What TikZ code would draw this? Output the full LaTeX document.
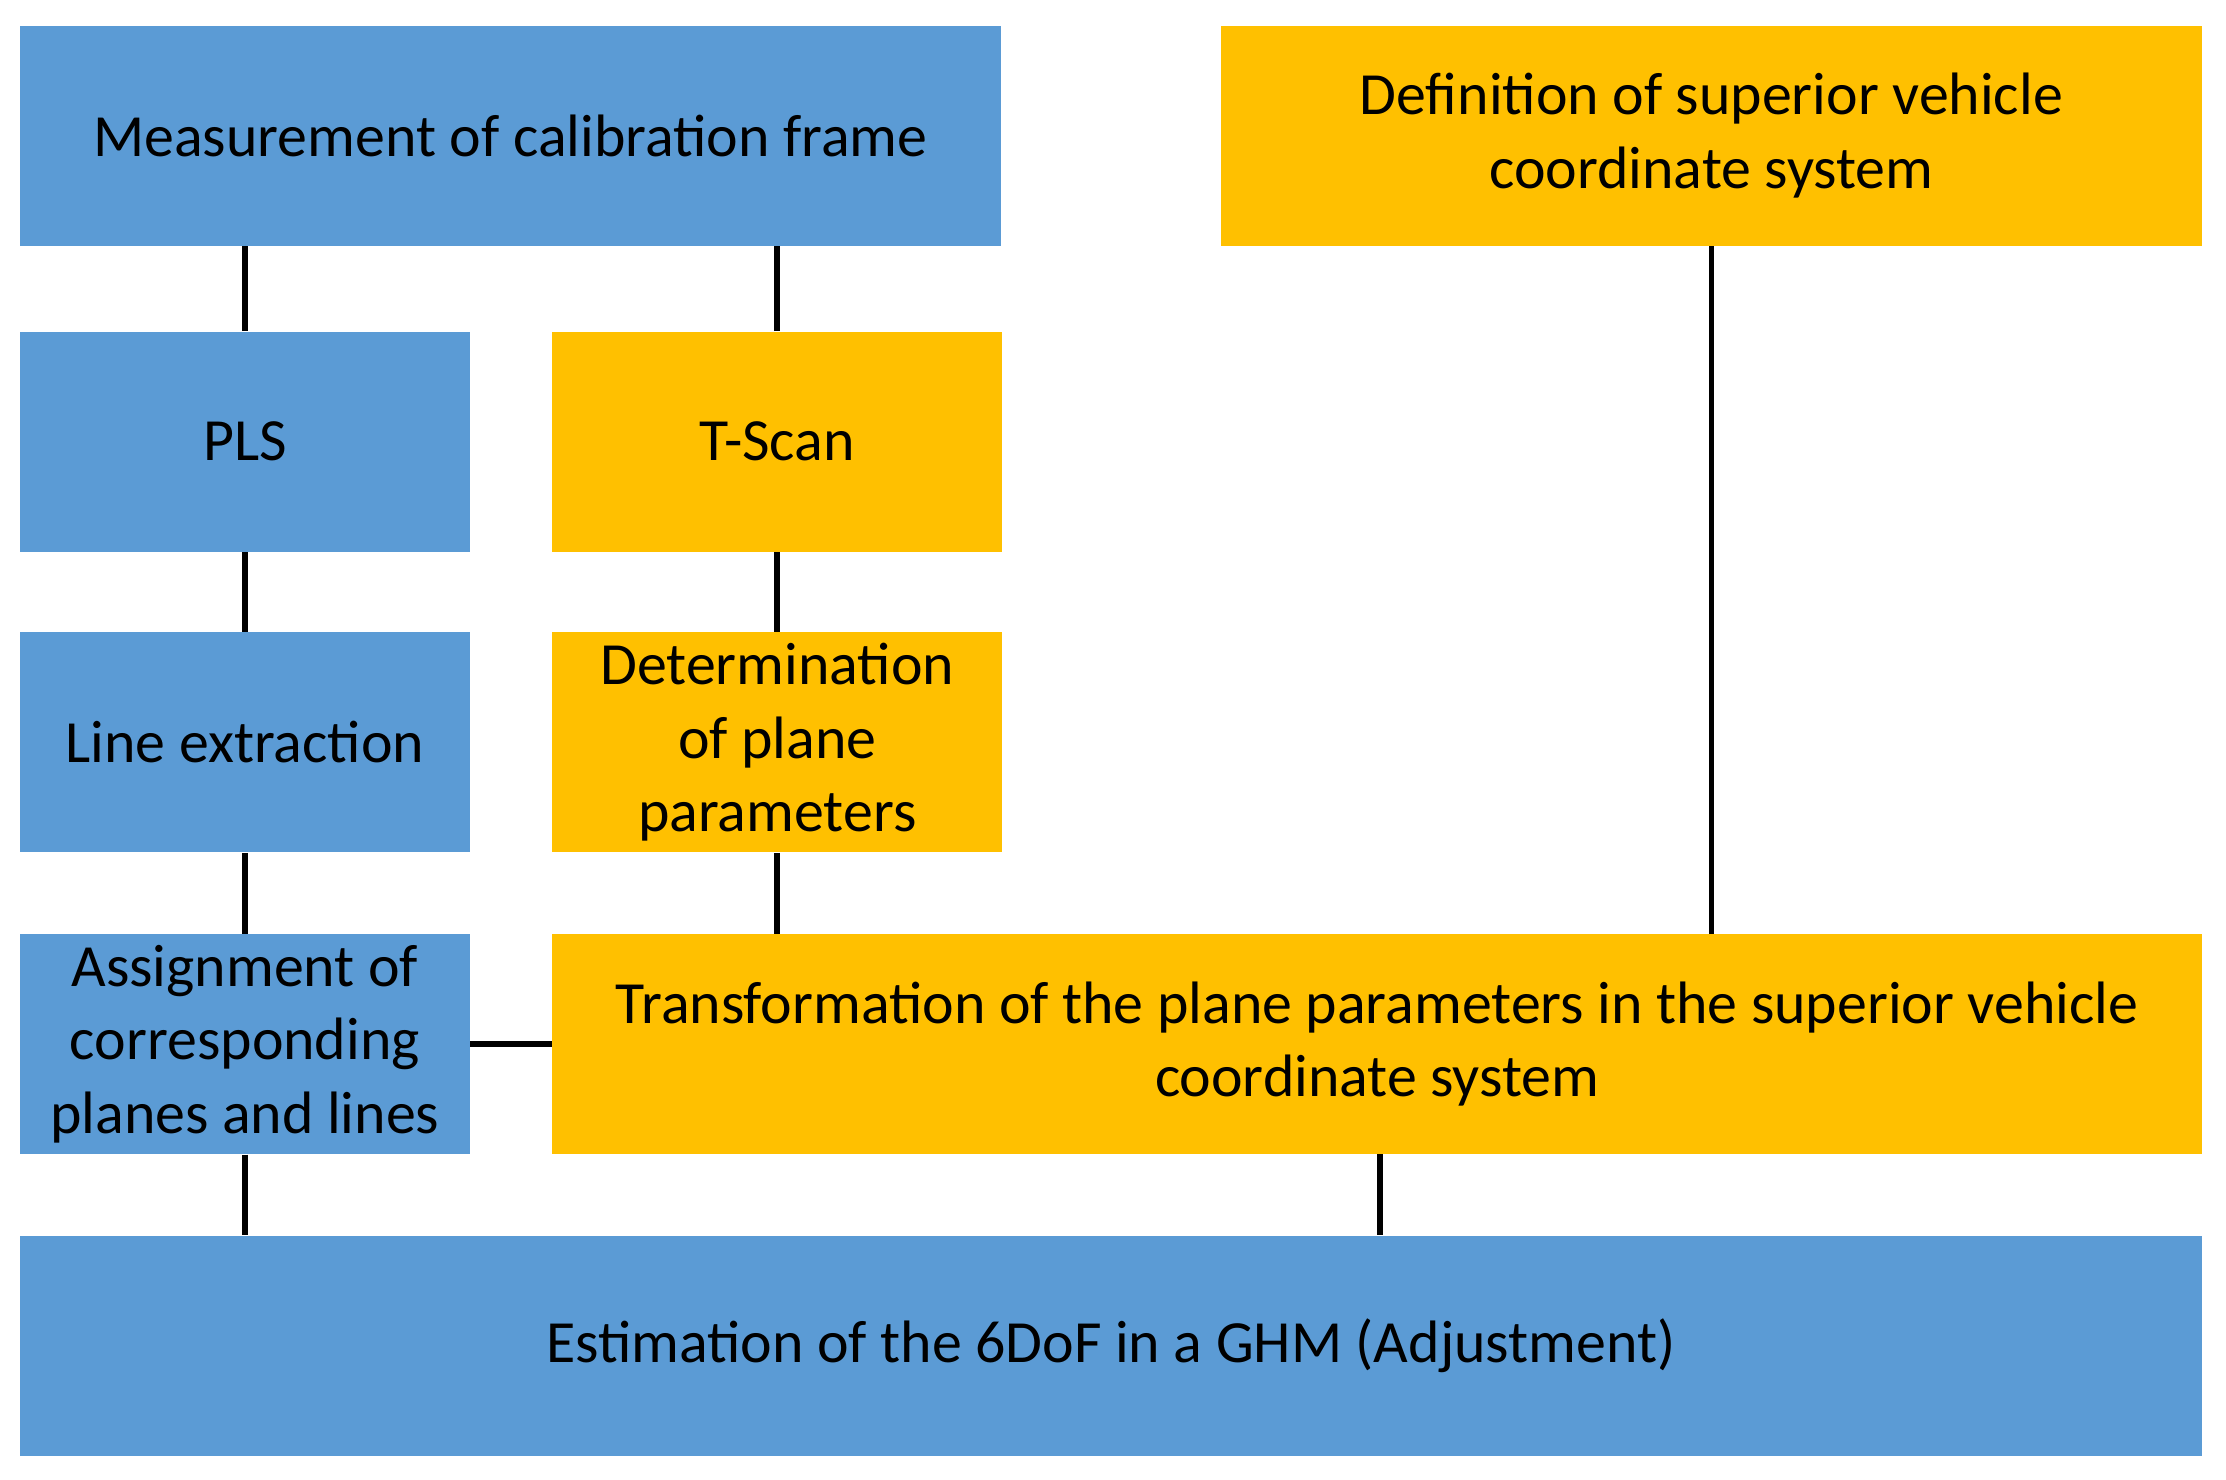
\documentclass[tikz,border=0pt]{standalone}
\usepackage{fontspec}
\setmainfont{Carlito}
\definecolor{bl}{HTML}{5B9BD5}
\definecolor{yl}{HTML}{FFC000}
\begin{document}
\begin{tikzpicture}[x=0.02cm,y=-0.02cm,
 box/.style={draw=none,align=center,inner sep=0pt,font=\fontsize{24}{29.5}\selectfont,minimum height=3.1cm},
 bbox/.style={box,fill=bl}, ybox/.style={box,fill=yl},
 ln/.style={line width=0.08cm}]
\useasboundingbox (0,0) rectangle (1568,1042);
\node[bbox,minimum width=13.82cm] (meas) at (359.5,95.5) {Measurement of calibration frame};
\node[ybox,minimum width=13.82cm] (def) at (1205.5,95.5) {Definition of superior vehicle\\coordinate system};
\node[bbox,minimum width=6.34cm] (pls) at (172.5,311) {PLS};
\node[ybox,minimum width=6.34cm] (ts) at (547.5,311) {T-Scan};
\node[bbox,minimum width=6.34cm] (le) at (172.5,523) {Line extraction};
\node[ybox,minimum width=6.34cm] (det) at (547.5,523) {Determination\\of plane\\parameters};
\node[bbox,minimum width=6.34cm] (as) at (172.5,735.5) {Assignment of\\corresponding\\planes and lines};
\node[ybox,minimum width=23.24cm] (tr) at (970,735.5) {Transformation of the plane parameters in the superior vehicle\\coordinate system};
\node[bbox,minimum width=30.74cm] (est) at (782.5,948) {Estimation of the 6DoF in a GHM (Adjustment)};
\draw[ln] (pls.north) -- (pls.north |- meas.south);
\draw[ln] (ts.north) -- (ts.north |- meas.south);
\draw[ln] (pls) -- (le);
\draw[ln] (ts) -- (det);
\draw[ln] (le) -- (as);
\draw[ln] (det.south) -- (det.south |- tr.north);
\draw[ln] (def.south) -- (def.south |- tr.north);
\draw[ln] (as) -- (tr);
\draw[ln] (as.south) -- (as.south |- est.north);
\coordinate (tb) at (972,813);
\draw[ln] (tb) -- (tb |- est.north);
\end{tikzpicture}
\end{document}
